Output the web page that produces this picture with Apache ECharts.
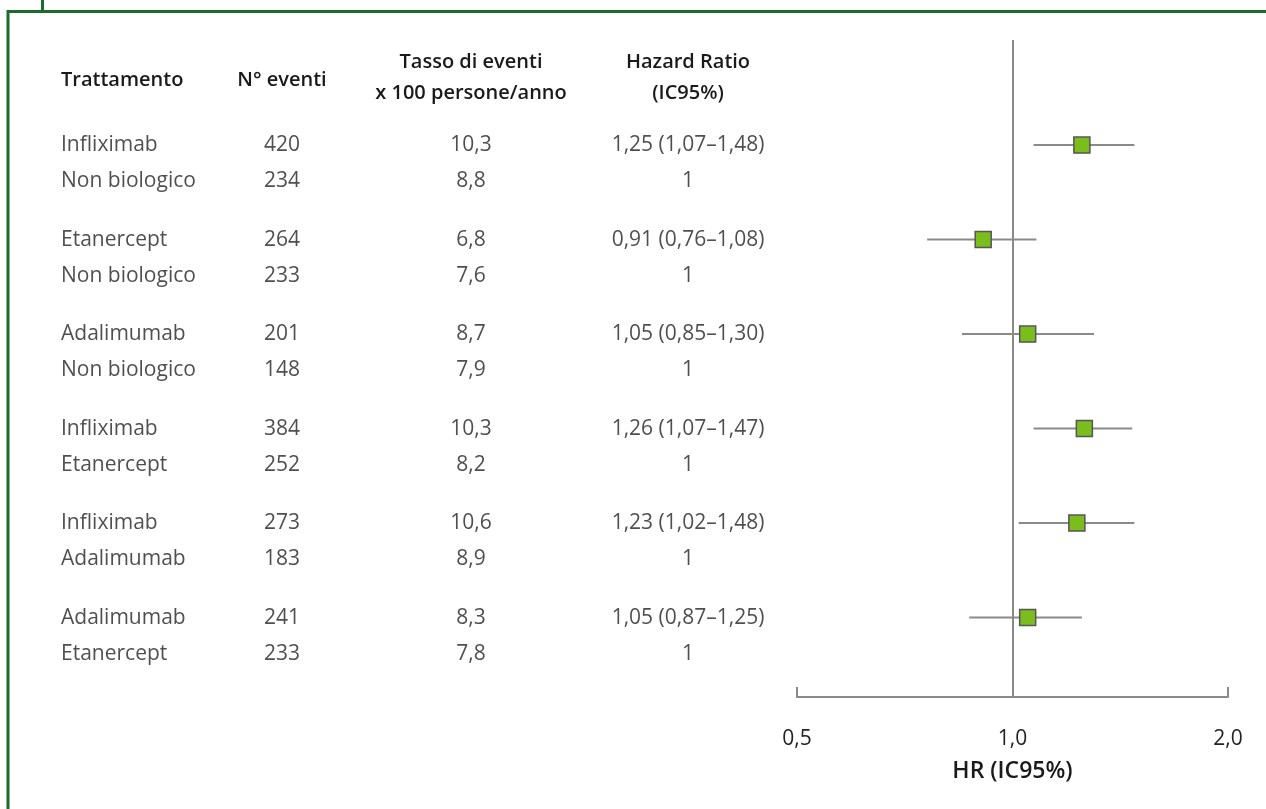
<!DOCTYPE html>
<html>
<head>
<meta charset="utf-8">
<script src="https://cdn.jsdelivr.net/npm/echarts@6/dist/echarts.min.js"></script>
<style>
  html, body { margin: 0; padding: 0; background: #fff; }
  #chart { width: 1266px; height: 809px; }
</style>
</head>
<body>
<div id="chart"></div>
<script>
// Comparisons: each pair is (treatment, comparator)
const treatments = [
  ['Infliximab', 'Non biologico'],
  ['Etanercept', 'Non biologico'],
  ['Adalimumab', 'Non biologico'],
  ['Infliximab', 'Etanercept'],
  ['Infliximab', 'Adalimumab'],
  ['Adalimumab', 'Etanercept']
];
const eventCounts = [[420, 234], [264, 233], [201, 148], [384, 252], [273, 183], [241, 233]];
const eventRates = [[10.3, 8.8], [6.8, 7.6], [8.7, 7.9], [10.3, 8.2], [10.6, 8.9], [8.3, 7.8]];
const hazardRatio = [1.25, 0.91, 1.05, 1.26, 1.23, 1.05];
const ciLower = [1.07, 0.76, 0.85, 1.07, 1.02, 0.87];
const ciUpper = [1.48, 1.08, 1.30, 1.47, 1.48, 1.25];
const axisTicks = [0.5, 1.0, 2.0];

const headers = ['Trattamento', 'N° eventi', 'Tasso di eventi\nx 100 persone/anno', 'Hazard Ratio\n(IC95%)'];
const axisTitle = 'HR (IC95%)';

// Layout
const FONT = '"Open Sans", "Noto Sans", sans-serif';
const TEXT = '#232323';
const BODY_SIZE = 21;
const HEAD_SIZE = 20;
const GRID_TOP = 40, GRID_BOTTOM = 112;
const Y_MIN = -2.92, Y_MAX = 15.33;
const PAIR_STEP = 2.625;      // vertical distance between comparison pairs (row units)
const colX = [61, 282, 471, 688];

const comma = (v, d) => v.toFixed(d).replace('.', ',');
const rowY = (p, r) => p * PAIR_STEP + r;

// Table cells as [x, y, text]
const nameCells = [], countCells = [], rateCells = [], hrCells = [];
treatments.forEach((pair, p) => {
  for (let r = 0; r < 2; r++) {
    const y = rowY(p, r);
    nameCells.push([colX[0], y, pair[r]]);
    countCells.push([colX[1], y, String(eventCounts[p][r])]);
    rateCells.push([colX[2], y, comma(eventRates[p][r], 1)]);
    hrCells.push([colX[3], y, r === 0
      ? comma(hazardRatio[p], 2) + ' (' + comma(ciLower[p], 2) + '–' + comma(ciUpper[p], 2) + ')'
      : '1']);
  }
});

const ciData = hazardRatio.map((v, p) => [ciLower[p], ciUpper[p], rowY(p, 0)]);
const pointData = hazardRatio.map((v, p) => [v, rowY(p, 0)]);

const textSeries = (data, align) => ({
  type: 'scatter',
  xAxisIndex: 1, yAxisIndex: 1,
  data: data,
  symbolSize: 0,
  silent: true,
  label: {
    show: true,
    position: align === 'left' ? 'right' : 'inside',
    distance: 0,
    formatter: (pr) => pr.data[2],
    color: TEXT,
    fontFamily: FONT,
    fontSize: BODY_SIZE
  }
});

const headerText = (x, y, text, align) => ({
  type: 'text',
  x: x, y: y,
  style: {
    text: text,
    fill: '#1a1a1a',
    font: '600 ' + HEAD_SIZE + 'px ' + FONT,
    textAlign: align || 'center',
    textVerticalAlign: 'middle',
    lineHeight: 31
  }
});

const chart = echarts.init(document.getElementById('chart'), null, { renderer: 'canvas' });

chart.setOption({
  animation: false,
  backgroundColor: '#fff',
  grid: [
    { left: 797, right: 38, top: GRID_TOP, bottom: GRID_BOTTOM },
    { left: 0, width: 797, top: GRID_TOP, bottom: GRID_BOTTOM }
  ],
  xAxis: [
    {
      type: 'log', logBase: 2, min: 0.5, max: 2,
      gridIndex: 0,
      axisLine: { show: true, onZero: false, lineStyle: { color: '#8a8a8a', width: 2 } },
      axisTick: { show: true, inside: true, length: 10, lineStyle: { color: '#8a8a8a', width: 2 } },
      splitLine: { show: false },
      axisLabel: {
        margin: 32,
        color: TEXT, fontFamily: FONT, fontSize: BODY_SIZE,
        formatter: (v) => axisTicks.some(t => Math.abs(t - v) < 1e-6) ? comma(v, 1) : ''
      },
      name: axisTitle,
      nameLocation: 'middle',
      nameGap: 63,
      nameTextStyle: { color: '#1a1a1a', fontFamily: FONT, fontSize: 23, fontWeight: 600, verticalAlign: 'top' }
    },
    { type: 'value', gridIndex: 1, min: 0, max: 797, show: false }
  ],
  yAxis: [
    { type: 'value', gridIndex: 0, min: Y_MIN, max: Y_MAX, inverse: true, show: false },
    { type: 'value', gridIndex: 1, min: Y_MIN, max: Y_MAX, inverse: true, show: false }
  ],
  series: [
    {
      type: 'custom',
      xAxisIndex: 0, yAxisIndex: 0,
      data: ciData,
      silent: true,
      renderItem: (params, api) => {
        const a = api.coord([api.value(0), api.value(2)]);
        const b = api.coord([api.value(1), api.value(2)]);
        return {
          type: 'line',
          shape: { x1: a[0], y1: a[1], x2: b[0], y2: b[1] },
          style: { stroke: '#8a8a8a', lineWidth: 2 }
        };
      },
      z: 2
    },
    {
      type: 'scatter',
      xAxisIndex: 0, yAxisIndex: 0,
      data: pointData,
      symbol: 'rect',
      symbolSize: 16,
      itemStyle: { color: '#7cbd1e', borderColor: '#555', borderWidth: 1.5, opacity: 1 },
      silent: true,
      z: 4,
      markLine: {
        silent: true,
        symbol: 'none',
        label: { show: false },
        lineStyle: { color: '#8a8a8a', width: 2, type: 'solid' },
        data: [{ xAxis: 1 }]
      }
    },
    textSeries(nameCells, 'left'),
    textSeries(countCells, 'center'),
    textSeries(rateCells, 'center'),
    textSeries(hrCells, 'center')
  ],
  graphic: [
    {
      type: 'rect',
      shape: { x: 8, y: 11.5, width: 1400, height: 900 },
      style: { fill: 'none', stroke: '#1d6a2d', lineWidth: 3 },
      silent: true
    },
    {
      type: 'line',
      shape: { x1: 42.5, y1: 0, x2: 42.5, y2: 11 },
      style: { stroke: '#1d6a2d', lineWidth: 3 },
      silent: true
    },
    headerText(colX[0], 80, headers[0], 'left'),
    headerText(colX[1], 80, headers[1]),
    headerText(colX[2], 77.5, headers[2]),
    headerText(colX[3], 77.5, headers[3])
  ]
});
</script>
</body>
</html>
